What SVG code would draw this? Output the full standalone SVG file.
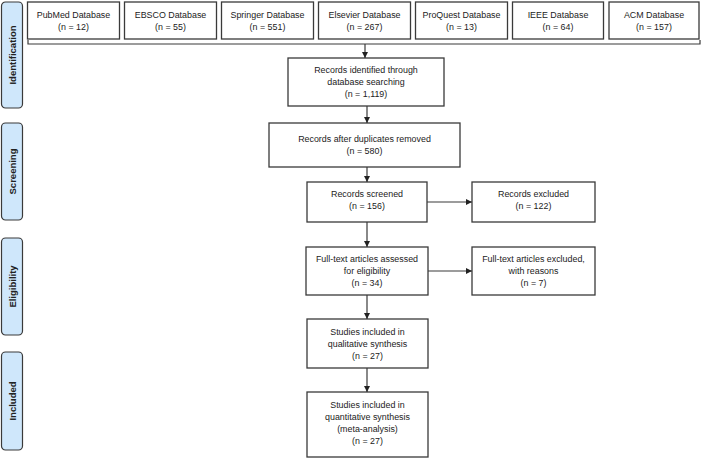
<svg xmlns="http://www.w3.org/2000/svg" width="702" height="459" viewBox="0 0 702 459">
<defs>
<style>
.bg{fill:#ffffff}
.box{fill:#ffffff;stroke:#3a3a3a;stroke-width:1.3}
.side{fill:#cfe7fb;stroke:#3a3a3a;stroke-width:1.2}
.t{font-family:"Liberation Sans",Arial,sans-serif;font-size:8.9px;fill:#222;text-anchor:middle}
.st{font-family:"Liberation Sans",Arial,sans-serif;font-size:9.5px;font-weight:bold;fill:#222;text-anchor:middle}
.ln{fill:none;stroke:#3a3a3a;stroke-width:1.2}
</style>
<marker id="ah" viewBox="0 0 10 10" refX="10" refY="5" markerWidth="6" markerHeight="6" markerUnits="userSpaceOnUse" orient="auto">
<path d="M0,0 L10,5 L0,10 z" fill="#222"/>
</marker>
</defs>
<rect class="bg" x="0" y="0" width="702" height="459"/>

<g id="phase-identification"><rect class="side" x="1.5" y="2" width="21" height="106" rx="4"/><text class="st" transform="translate(15.5,55) rotate(-90)">Identification</text></g>
<g id="phase-screening"><rect class="side" x="1.5" y="123" width="21" height="97" rx="4"/><text class="st" transform="translate(15.5,171.5) rotate(-90)">Screening</text></g>
<g id="phase-eligibility"><rect class="side" x="1.5" y="238" width="21" height="97" rx="4"/><text class="st" transform="translate(15.5,286.5) rotate(-90)">Eligibility</text></g>
<g id="phase-included"><rect class="side" x="1.5" y="352" width="21" height="98" rx="4"/><text class="st" transform="translate(15.5,401) rotate(-90)">Included</text></g>

<g id="pubmed"><rect class="box" x="27.5" y="2" width="92" height="37"/><text class="t" x="73.5" y="18">PubMed Database</text><text class="t" x="73.5" y="30">(n = 12)</text></g>
<g id="ebsco"><rect class="box" x="124.5" y="2" width="92" height="37"/><text class="t" x="170.5" y="18">EBSCO Database</text><text class="t" x="170.5" y="30">(n = 55)</text></g>
<g id="springer"><rect class="box" x="221.5" y="2" width="92" height="37"/><text class="t" x="267.5" y="18">Springer Database</text><text class="t" x="267.5" y="30">(n = 551)</text></g>
<g id="elsevier"><rect class="box" x="318.5" y="2" width="92" height="37"/><text class="t" x="364.5" y="18">Elsevier Database</text><text class="t" x="364.5" y="30">(n = 267)</text></g>
<g id="proquest"><rect class="box" x="415.5" y="2" width="92" height="37"/><text class="t" x="461.5" y="18">ProQuest Database</text><text class="t" x="461.5" y="30">(n = 13)</text></g>
<g id="ieee"><rect class="box" x="512.5" y="2" width="91" height="37"/><text class="t" x="558" y="18">IEEE Database</text><text class="t" x="558" y="30">(n = 64)</text></g>
<g id="acm"><rect class="box" x="609" y="2" width="90" height="37"/><text class="t" x="654" y="18">ACM Database</text><text class="t" x="654" y="30">(n = 157)</text></g>

<g id="identified"><rect class="box" x="288" y="58" width="156" height="48"/><text class="t" x="366" y="73">Records identified through</text><text class="t" x="366" y="85">database searching</text><text class="t" x="366" y="97">(n = 1,119)</text></g>
<g id="deduplicated"><rect class="box" x="269" y="123" width="191" height="44"/><text class="t" x="364.5" y="142">Records after duplicates removed</text><text class="t" x="364.5" y="154">(n = 580)</text></g>
<g id="screened"><rect class="box" x="307" y="182" width="120" height="40"/><text class="t" x="367" y="197">Records screened</text><text class="t" x="367" y="209">(n = 156)</text></g>
<g id="excluded"><rect class="box" x="472" y="182" width="123" height="40"/><text class="t" x="533.5" y="197">Records excluded</text><text class="t" x="533.5" y="209">(n = 122)</text></g>
<g id="fulltext"><rect class="box" x="306" y="247" width="122" height="48"/><text class="t" x="367" y="262">Full-text articles assessed</text><text class="t" x="367" y="274">for eligibility</text><text class="t" x="367" y="286">(n = 34)</text></g>
<g id="fulltext-excluded"><rect class="box" x="472" y="247" width="123" height="48"/><text class="t" x="533.5" y="262">Full-text articles excluded,</text><text class="t" x="533.5" y="274">with reasons</text><text class="t" x="533.5" y="286">(n = 7)</text></g>
<g id="qualitative"><rect class="box" x="307" y="319" width="121" height="49"/><text class="t" x="367.5" y="335">Studies included in</text><text class="t" x="367.5" y="347">qualitative synthesis</text><text class="t" x="367.5" y="359">(n = 27)</text></g>
<g id="quantitative"><rect class="box" x="307" y="392" width="121" height="65"/><text class="t" x="367.5" y="408">Studies included in</text><text class="t" x="367.5" y="420">quantitative synthesis</text><text class="t" x="367.5" y="432">(meta-analysis)</text><text class="t" x="367.5" y="444">(n = 27)</text></g>

<g id="connectors">
<path class="ln" d="M28,40 V44 H700 V40"/>
<path class="ln" d="M365,44 V58" marker-end="url(#ah)"/>
<path class="ln" d="M367,106 V123" marker-end="url(#ah)"/>
<path class="ln" d="M367,167 V182" marker-end="url(#ah)"/>
<path class="ln" d="M427,202 H472" marker-end="url(#ah)"/>
<path class="ln" d="M367,222 V247" marker-end="url(#ah)"/>
<path class="ln" d="M428,271 H472" marker-end="url(#ah)"/>
<path class="ln" d="M367,295 V319" marker-end="url(#ah)"/>
<path class="ln" d="M367,368 V392" marker-end="url(#ah)"/>
</g>
</svg>
